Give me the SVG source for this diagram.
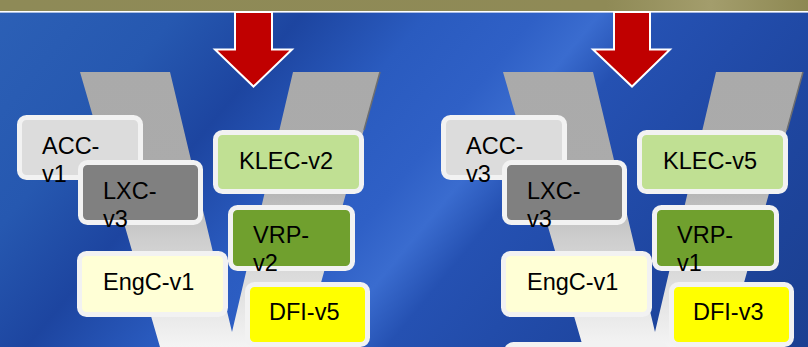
<svg xmlns="http://www.w3.org/2000/svg" width="808" height="347" viewBox="0 0 808 347">
<defs>
<linearGradient id="bg" gradientUnits="userSpaceOnUse" x1="0" y1="0" x2="930" y2="770">
<stop offset="0" stop-color="#2c60b6"/>
<stop offset="0.12" stop-color="#2658b0"/>
<stop offset="0.2" stop-color="#1d45a0"/>
<stop offset="0.28" stop-color="#2a5bbf"/>
<stop offset="0.35" stop-color="#2f60c6"/>
<stop offset="0.39" stop-color="#3a6ccf"/>
<stop offset="0.43" stop-color="#2551b2"/>
<stop offset="0.55" stop-color="#1f47a2"/>
<stop offset="0.66" stop-color="#1c4194"/>
<stop offset="1" stop-color="#163680"/>
</linearGradient>
<linearGradient id="band" x1="0" y1="0" x2="1" y2="0">
<stop offset="0" stop-color="#8e8a57"/>
<stop offset="0.75" stop-color="#8f8a56"/>
<stop offset="0.88" stop-color="#a39d6c"/>
<stop offset="1" stop-color="#8d8852"/>
</linearGradient>
<linearGradient id="vg" gradientUnits="userSpaceOnUse" x1="0" y1="72" x2="0" y2="347">
<stop offset="0" stop-color="#aaaaaa"/>
<stop offset="0.36" stop-color="#ababab"/>
<stop offset="0.6" stop-color="#cdcdcd"/>
<stop offset="1" stop-color="#f4f4f4"/>
</linearGradient>
<style>
.box{stroke:#f2f2f2;stroke-width:5}
.t{font-family:"Liberation Sans",Arial,sans-serif;font-size:23.5px;fill:#000}
.arrow{fill:#c00000;stroke:#ffffff;stroke-width:2;stroke-linejoin:miter}
.vshape{fill:url(#vg)}
.vedge{stroke:#6e6e6e;stroke-width:1.5;fill:none}
</style>
</defs>

<rect x="0" y="0" width="808" height="347" fill="url(#bg)"/>
<rect x="0" y="0" width="808" height="11" fill="url(#band)"/>
<rect x="0" y="11" width="808" height="1.6" fill="#ffffff"/>

<g id="v-left">
<polygon class="vshape" points="80,72 170,72 232,332 293,72 380,72 303,347 160,347"/>
<line class="vedge" x1="380" y1="72" x2="364" y2="130"/>
</g>
<g id="v-right">
<polygon class="vshape" points="503,72 593,72 655,332 716,72 803,72 726,347 583,347"/>
<line class="vedge" x1="803" y1="72" x2="787" y2="130"/>
</g>

<g id="connectors">
<polygon class="arrow" points="235,12 272,12 272,49.5 292,49.5 253.5,86.5 215,49.5 235,49.5"/>
<polygon class="arrow" points="614,12 650,12 650,49.5 670,49.5 632,86.5 593,49.5 614,49.5"/>
</g>

<g id="acc-v1">
<rect class="box" x="19.5" y="117.5" width="121" height="60" rx="7" fill="#dcdcdc"/>
<text class="t" x="42" y="154">ACC-</text>
<text class="t" x="42" y="182">v1</text>
</g>
<g id="lxc-v3-left">
<rect class="box" x="80.5" y="162.5" width="120" height="60" rx="7" fill="#808080"/>
<text class="t" x="103" y="199">LXC-</text>
<text class="t" x="103" y="227">v3</text>
</g>
<g id="klec-v2">
<rect class="box" x="215.5" y="132.5" width="146" height="59" rx="7" fill="#c0e093"/>
<text class="t" x="239" y="169">KLEC-v2</text>
</g>
<g id="vrp-v2">
<rect class="box" x="230.5" y="207.5" width="122" height="61" rx="7" fill="#70a02e"/>
<text class="t" x="253" y="243">VRP-</text>
<text class="t" x="253" y="271">v2</text>
</g>
<g id="engc-v1-left">
<rect class="box" x="79.5" y="253.5" width="146" height="61" rx="7" fill="#ffffd6"/>
<text class="t" x="103" y="290">EngC-v1</text>
</g>
<g id="dfi-v5">
<rect class="box" x="247.5" y="284.5" width="120" height="60" rx="7" fill="#ffff00"/>
<text class="t" x="269" y="320">DFI-v5</text>
</g>

<g id="acc-v3">
<rect class="box" x="443.5" y="117.5" width="121" height="60" rx="7" fill="#dcdcdc"/>
<text class="t" x="466" y="154">ACC-</text>
<text class="t" x="466" y="182">v3</text>
</g>
<g id="lxc-v3-right">
<rect class="box" x="504.5" y="162.5" width="120" height="60" rx="7" fill="#808080"/>
<text class="t" x="527" y="199">LXC-</text>
<text class="t" x="527" y="227">v3</text>
</g>
<g id="klec-v5">
<rect class="box" x="639.5" y="132.5" width="146" height="59" rx="7" fill="#c0e093"/>
<text class="t" x="663" y="169">KLEC-v5</text>
</g>
<g id="vrp-v1">
<rect class="box" x="654.5" y="207.5" width="122" height="61" rx="7" fill="#70a02e"/>
<text class="t" x="677" y="243">VRP-</text>
<text class="t" x="677" y="271">v1</text>
</g>
<g id="engc-v1-right">
<rect class="box" x="503.5" y="253.5" width="146" height="61" rx="7" fill="#ffffd6"/>
<text class="t" x="527" y="290">EngC-v1</text>
</g>
<g id="bottom-box-right">
<rect class="box" x="506.5" y="344.5" width="160" height="40" rx="7" fill="#f6f6f6"/>
</g>
<g id="dfi-v3">
<rect class="box" x="671.5" y="284.5" width="120" height="60" rx="7" fill="#ffff00"/>
<text class="t" x="693" y="320">DFI-v3</text>
</g>
</svg>
